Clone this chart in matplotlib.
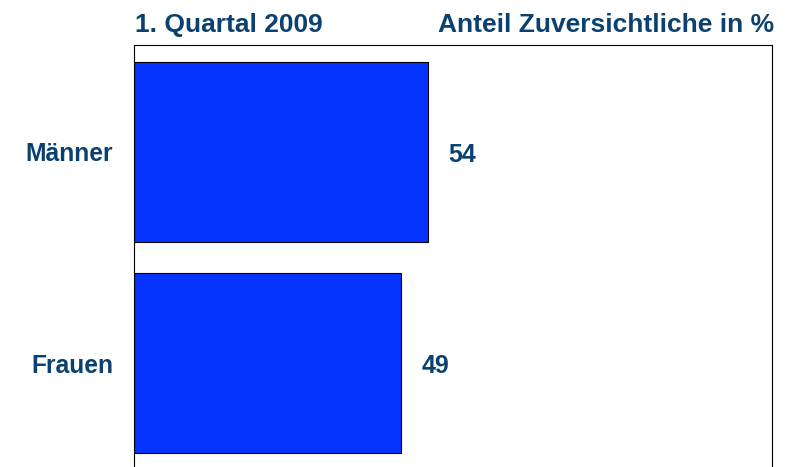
import matplotlib.pyplot as plt

# Daten
categories = ['Männer', 'Frauen']
values = [54, 49]
title_left = '1. Quartal 2009'
title_right = 'Anteil Zuversichtliche in %'

text_color = '#0b4170'
bar_color = '#0433ff'
plt.rcParams['font.family'] = ['Liberation Sans', 'DejaVu Sans']

fig = plt.figure(figsize=(7.92, 4.67), dpi=100)
ax = fig.add_axes((134 / 792, -3 / 467, 638 / 792, 425 / 467))

ypos = list(range(len(categories)))
ax.barh(ypos, values, height=0.85, color=bar_color, edgecolor='black', linewidth=0.8)
ax.set_xlim(0, 117.2)
ax.set_ylim(1.507, -0.507)

ax.set_yticks(ypos)
ax.set_yticklabels(categories, fontsize=17.7, fontweight='bold', color=text_color)
ax.tick_params(axis='y', length=0, pad=15)
ax.set_xticks([])

# Werte rechts neben den Balken
for y, v in zip(ypos, values):
    ax.annotate(str(v), (v, y), xytext=(15, -2), textcoords='offset points',
                va='center', ha='left', fontsize=18, fontweight='bold', color=text_color)

for s in ax.spines.values():
    s.set_linewidth(0.8)

# Überschriften
fig.text(135 / 792, 1 - 32 / 467, title_left, ha='left', va='baseline',
         fontsize=19, fontweight='bold', color=text_color)
fig.text(774 / 792, 1 - 32 / 467, title_right, ha='right', va='baseline',
         fontsize=19, fontweight='bold', color=text_color)

fig.savefig('out.png', dpi=100)
